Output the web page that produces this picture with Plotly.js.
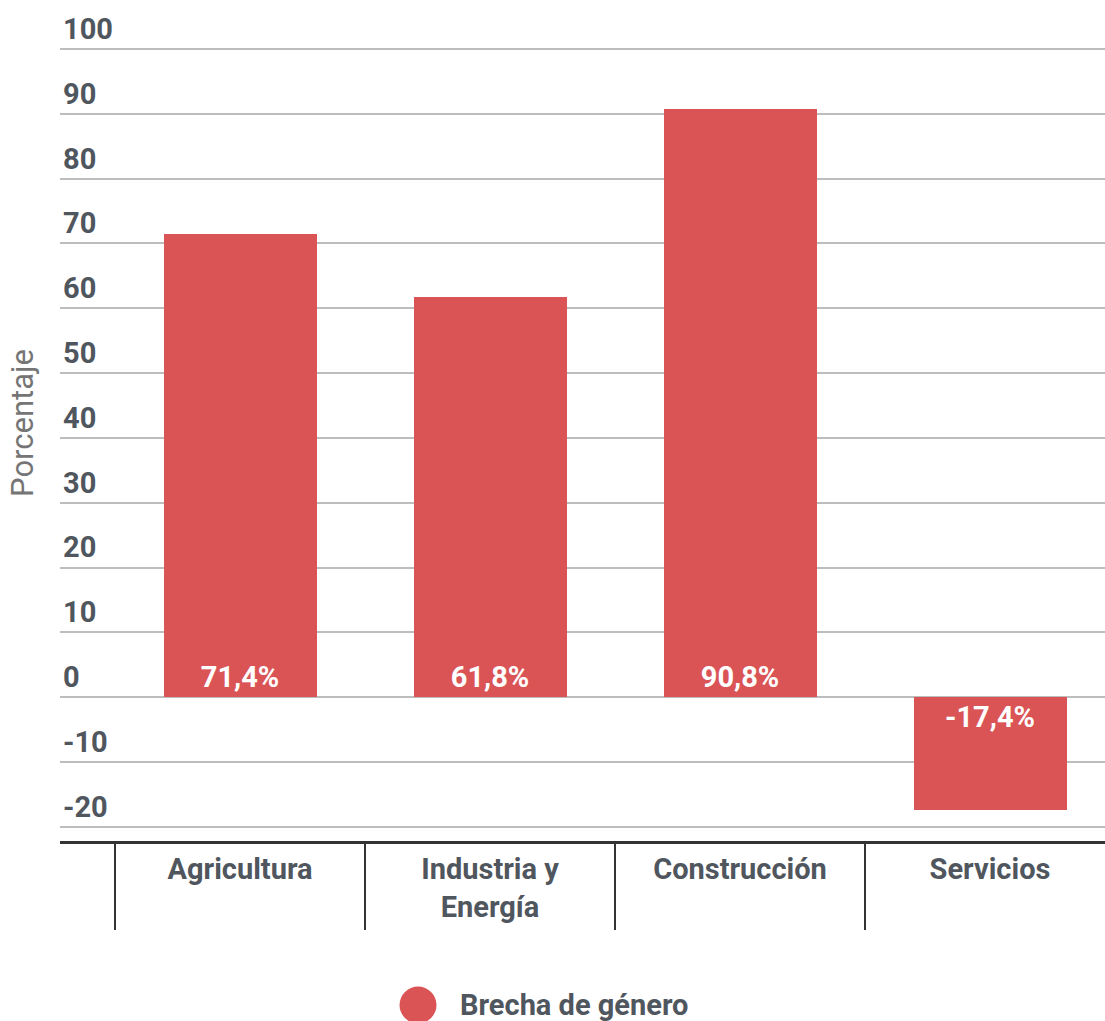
<!DOCTYPE html>
<html>
<head>
<meta charset="utf-8">
<script src="https://cdn.plot.ly/plotly-3.0.1.min.js"></script>
<style>html,body{margin:0;padding:0;background:#fff}#chart{width:1105px;height:1021px}</style>
</head>
<body>
<div id="chart"></div>
<script>
const categories = ["Agricultura", "Industria y<br>Energía", "Construcción", "Servicios"];
const values = [71.4, 61.8, 90.8, -17.4];
const seriesName = "Brecha de género";
const yTicks = [-20, -10, 0, 10, 20, 30, 40, 50, 60, 70, 80, 90, 100];
const dividers = [-0.5, 0.5, 1.5, 2.5];

const FONT = "Roboto, 'Noto Sans', sans-serif";
const RED = "#da5456";
const TXT = "#50565e";

const bar = {
  type: "bar",
  x: [0, 1, 2, 3],
  y: values,
  name: seriesName,
  marker: {color: RED},
  width: 0.612,
  texttemplate: "%{y:.1f}%",
  textposition: "inside",
  insidetextanchor: "start",
  constraintext: "none",
  textfont: {family: FONT, size: 29, color: "#ffffff", weight: "bold"},
  showlegend: false,
  hoverinfo: "skip"
};

const layout = {
  width: 1105, height: 1021,
  margin: {l: 60, r: 0, t: 5, b: 180},
  paper_bgcolor: "#fff", plot_bgcolor: "#fff",
  separators: ",.",
  font: {family: FONT, color: TXT, size: 29},
  showlegend: false,
  bargap: 0,
  xaxis: {
    range: [-0.72, 3.46],
    tickvals: [0, 1, 2, 3],
    ticktext: categories,
    ticks: "",
    showgrid: false,
    zeroline: false,
    showline: true, linecolor: "#333", linewidth: 3,
    tickfont: {family: FONT, size: 29, color: TXT, weight: "bold"},
    ticklabelstandoff: 0,
    fixedrange: true
  },
  xaxis2: {
    overlaying: "x",
    anchor: "y",
    side: "bottom",
    range: [-0.72, 3.46],
    tickvals: dividers,
    ticks: "outside", ticklen: 88, tickwidth: 2, tickcolor: "#333",
    showticklabels: false,
    showgrid: false, zeroline: false, showline: false
  },
  yaxis: {
    range: [-22.2, 106.8],
    tickvals: yTicks,
    ticktext: yTicks.map(String),
    ticklabelposition: "inside top",
    tickfont: {family: FONT, size: 29, color: TXT, weight: "bold"},
    showgrid: true, gridcolor: "#bdbdbd", gridwidth: 2,
    zeroline: true, zerolinecolor: "#bdbdbd", zerolinewidth: 2,
    showline: false, ticks: "",
    title: {text: "Porcentaje", font: {family: FONT, size: 31, color: "#757575"}, standoff: 20},
    fixedrange: true
  },
  shapes: [{
    type: "circle", xref: "paper", yref: "paper",
    x0: (399.5 - 60) / 1045, x1: (436.5 - 60) / 1045,
    y0: (841 - 1023.5) / 836, y1: (841 - 986.5) / 836,
    fillcolor: RED, line: {width: 0}
  }],
  annotations: [{
    xref: "paper", yref: "paper",
    x: (458 - 60) / 1045, y: (841 - 1005) / 836,
    xanchor: "left", yanchor: "middle",
    text: seriesName, showarrow: false,
    font: {family: FONT, size: 29, color: TXT, weight: "bold"}
  }]
};

Plotly.newPlot("chart", [bar, {type: "scatter", x: [], y: [], xaxis: "x2", yaxis: "y", showlegend: false, hoverinfo: "skip"}], layout, {displayModeBar: false, staticPlot: true});
</script>
</body>
</html>
